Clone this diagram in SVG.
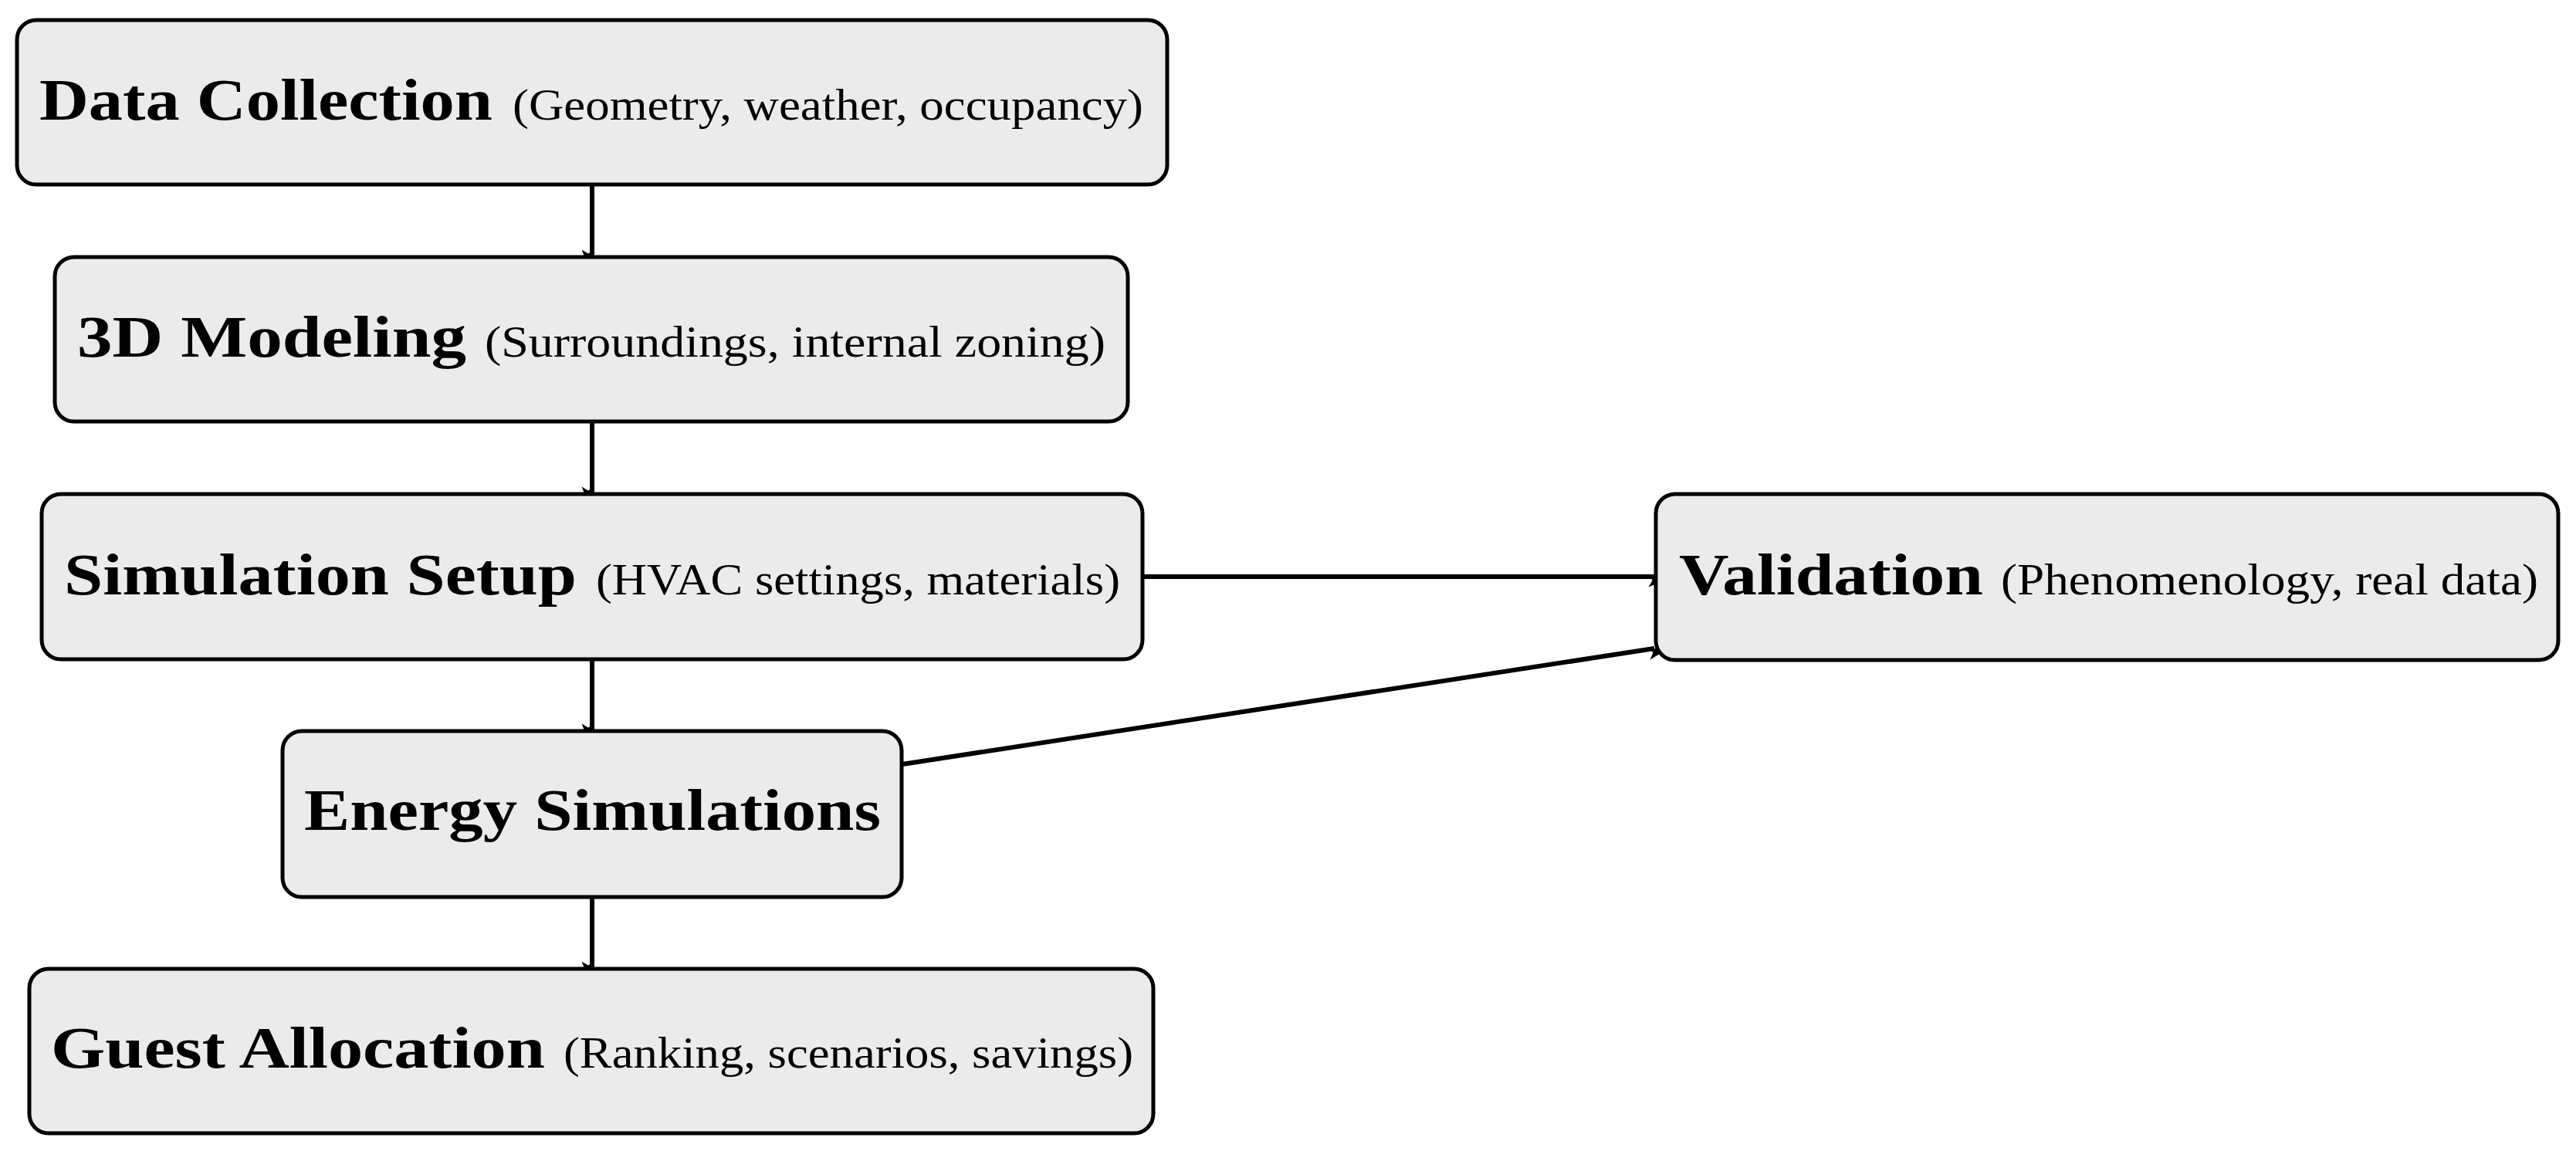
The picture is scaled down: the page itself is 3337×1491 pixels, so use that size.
<svg xmlns="http://www.w3.org/2000/svg" width="3337" height="1491" viewBox="0 0 3337 1491">
<style>
.box{fill:#ebebeb;stroke:#000;stroke-width:5}
.b{font-family:"Liberation Serif",serif;font-weight:bold;font-size:76px}
.n{font-family:"Liberation Serif",serif;font-size:56px}
.c{stroke:#000;stroke-width:6;fill:none;marker-end:url(#ah)}
</style>
<defs>
<marker id="ah" viewBox="0 0 20 16" refX="19" refY="8" markerWidth="8" markerHeight="6.4" markerUnits="userSpaceOnUse" orient="auto" style="overflow:visible">
<path d="M0,0 L20,8 L0,16 L5,8 Z" fill="#000" transform="scale(2.6)"/>
</marker>
</defs>
<g id="connectors">
<line class="c" x1="767" y1="240" x2="767" y2="331"/>
<line class="c" x1="767" y1="547" x2="767" y2="638"/>
<line class="c" x1="767" y1="855" x2="767" y2="945"/>
<line class="c" x1="767" y1="1163" x2="767" y2="1253"/>
<line class="c" x1="1481" y1="747" x2="2143" y2="747"/>
<line class="c" x1="1169" y1="990" x2="2143" y2="840"/>
</g>
<g id="data-collection"><rect class="box" x="22" y="26" width="1490" height="213" rx="25"/>
<text class="b" x="51" y="155" textLength="587" lengthAdjust="spacingAndGlyphs">Data Collection</text>
<text class="n" x="664" y="155" textLength="817" lengthAdjust="spacingAndGlyphs">(Geometry, weather, occupancy)</text></g>
<g id="3d-modeling"><rect class="box" x="71" y="333" width="1390" height="213" rx="25"/>
<text class="b" x="100" y="462" textLength="504" lengthAdjust="spacingAndGlyphs">3D Modeling</text>
<text class="n" x="628" y="462" textLength="804" lengthAdjust="spacingAndGlyphs">(Surroundings, internal zoning)</text></g>
<g id="simulation-setup"><rect class="box" x="54" y="640" width="1426" height="214" rx="25"/>
<text class="b" x="83" y="770" textLength="664" lengthAdjust="spacingAndGlyphs">Simulation Setup</text>
<text class="n" x="772" y="770" textLength="679" lengthAdjust="spacingAndGlyphs">(HVAC settings, materials)</text></g>
<g id="energy-simulations"><rect class="box" x="366" y="947" width="802" height="215" rx="25"/>
<text class="b" x="394" y="1075" textLength="747" lengthAdjust="spacingAndGlyphs">Energy Simulations</text></g>
<g id="guest-allocation"><rect class="box" x="38" y="1255" width="1456" height="213" rx="25"/>
<text class="b" x="66" y="1383" textLength="640" lengthAdjust="spacingAndGlyphs">Guest Allocation</text>
<text class="n" x="730" y="1383" textLength="738" lengthAdjust="spacingAndGlyphs">(Ranking, scenarios, savings)</text></g>
<g id="validation"><rect class="box" x="2145" y="640" width="1169" height="215" rx="25"/>
<text class="b" x="2175" y="770" textLength="394" lengthAdjust="spacingAndGlyphs">Validation</text>
<text class="n" x="2592" y="770" textLength="696" lengthAdjust="spacingAndGlyphs">(Phenomenology, real data)</text></g>
</svg>
